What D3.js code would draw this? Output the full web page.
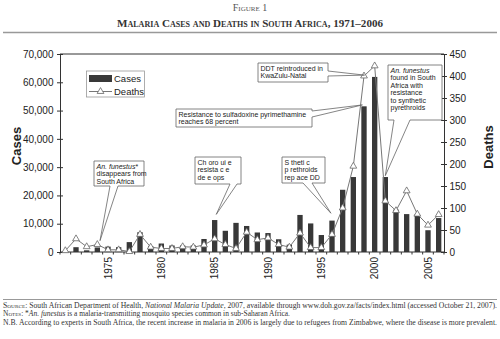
<!DOCTYPE html>
<html><head><meta charset="utf-8">
<script src="https://cdn.jsdelivr.net/npm/d3@7"></script>
<style>
body{margin:0;background:#fff}
svg{display:block}
</style></head><body>
<svg id="chart" width="500" height="339"></svg>
<script>
// ---------- data ----------
const years = [1971,1972,1973,1974,1975,1976,1977,1978,1979,1980,1981,1982,1983,1984,1985,1986,1987,1988,
               1989,1990,1991,1992,1993,1994,1995,1996,1997,1998,1999,2000,2001,2002,2003,2004,2005,2006];
const cases = [0,1700,600,1600,1900,1700,3500,7000,2100,3000,2300,2300,2300,4600,11300,7500,10300,9200,
               6900,6700,4500,2600,13100,10100,6000,11100,22000,26500,51500,61900,26500,15000,13400,13400,7700,12000];
const deaths = [3,30,12,17,5,5,1,40,11,8,8,12,11,16,30,17,8,45,
                28,32,17,11,43,10,10,40,100,195,400,423,116,94,139,86,61,85];
const casesTicks = [0,10000,20000,30000,40000,50000,60000,70000];
const deathsTicks = [0,50,100,150,200,250,300,350,400,450];
const yearLabels = [1975,1980,1985,1990,1995,2000,2005];
const seriesNames = ["Cases","Deaths"];

// annotations: anchor (year, value on axis) for the pointer tip
const notes = [
  {lines:[[["An. funestus","i"],["*",""]],[["disappears from",""]],[["South Africa",""]]],
   box:[94,161,50,25], edge:"bottom", base:[110,118], tip:{year:1974.25, axis:"c", v:4000}},
  {lines:[[["Ch oro ui  e",""]],[["resista c e",""]],[["de e ops",""]]],
   box:[195,157,46,27], edge:"bottom", base:[230,237], tip:{year:1985.15, axis:"c", v:13300}},
  {lines:[[["Resistance to sulfadoxine pyrimethamine",""]],[["reaches 68 percent",""]]],
   box:[176,109,136,18], edge:"right", base:[111,117], tip:{year:1998.85, axis:"c", v:52000}},
  {lines:[[["DDT reintroduced in",""]],[["KwaZulu-Natal",""]]],
   box:[258,63,70,19], edge:"right", base:[71,76], tip:{year:1999.05, axis:"d", v:402}},
  {lines:[[["An. funestus","i"]],[["found in South",""]],[["Africa with",""]],[["resistance",""]],[["to synthetic",""]],[["pyrethroids",""]]],
   box:[388,65,54,55], edge:"bottom", base:[394,410], tip:{year:2001, axis:"c", v:27000}},
  {lines:[[["S  theti  c",""]],[["p rethroids",""]],[["rep ace DD",""]]],
   box:[282,157,43,26], edge:"bottom", base:[303,312], tip:{year:1995.9, axis:"c", v:13700}}
];

// ---------- layout ----------
const L = 60, R = 444, T = 54, B = 252;
const svg = d3.select("#chart");
const sans = "'Liberation Sans', Arial, sans-serif";
const serif = "'Liberation Serif', 'Times New Roman', serif";

const x = d3.scaleBand().domain(years).range([L, R]).paddingInner(0.5).paddingOuter(0.25);
const yC = d3.scaleLinear().domain([0, 70000]).range([B, T]);
const yD = d3.scaleLinear().domain([0, 450]).range([B, T]);
const xCenter = yr => x(yr) + x.bandwidth() / 2;
const xFrac = yr => L + x.step() * (yr - years[0] + 0.5);

// ---------- header ----------
svg.append("text").attr("x", 250).attr("y", 10.5).attr("text-anchor", "middle")
  .style("font-family", serif).style("font-size", "10px").style("font-variant", "small-caps")
  .attr("fill", "#555").text("Figure 1");
svg.append("text").attr("x", 250).attr("y", 26.5).attr("text-anchor", "middle")
  .style("font-family", serif).style("font-size", "11px").style("font-weight", "bold")
  .style("font-variant", "small-caps").attr("fill", "#333")
  .attr("textLength", 266).attr("lengthAdjust", "spacingAndGlyphs")
  .text("Malaria Cases and Deaths in South Africa, 1971–2006");
svg.append("line").attr("x1", 3).attr("x2", 497).attr("y1", 32.5).attr("y2", 32.5)
  .attr("stroke", "#999").attr("stroke-width", 1.5);

// ---------- bars ----------
svg.append("g").selectAll("rect").data(years).join("rect")
  .attr("x", d => x(d)).attr("width", x.bandwidth())
  .attr("y", (d, i) => yC(cases[i])).attr("height", (d, i) => B - yC(cases[i]))
  .attr("fill", "#383838");

// ---------- axes ----------
const axL = svg.append("g").attr("transform", `translate(${L},0)`)
  .call(d3.axisLeft(yC).tickValues(casesTicks).tickFormat(d3.format(",")).tickSizeOuter(0).tickSize(3).tickPadding(3.5));
const axR = svg.append("g").attr("transform", `translate(${R},0)`)
  .call(d3.axisRight(yD).tickValues(deathsTicks).tickSizeOuter(0).tickSize(3).tickPadding(2.5));
[axL, axR].forEach((g, k) => {
  g.select(".domain").attr("stroke", "#333");
  g.selectAll(".tick line").attr("stroke", "#333").attr(k === 0 ? "x1" : "x1", k === 0 ? 3 : -3);
  g.selectAll(".tick text").style("font-family", sans).style("font-size", "10px").attr("fill", "#222");
});
// top frame & bottom axis
svg.append("line").attr("x1", L).attr("x2", R).attr("y1", T).attr("y2", T).attr("stroke", "#333");
svg.append("line").attr("x1", L).attr("x2", R).attr("y1", B).attr("y2", B).attr("stroke", "#333");
const bounds = years.map(d => x(d) - x.step() * 0.25).concat([R]);
svg.append("g").selectAll("line").data(bounds).join("line")
  .attr("x1", d => d).attr("x2", d => d).attr("y1", B).attr("y2", B + 2.5).attr("stroke", "#333");
svg.append("g").selectAll("text").data(yearLabels).join("text")
  .attr("transform", d => `translate(${xCenter(d) + 3.6},257) rotate(-90)`)
  .attr("text-anchor", "end").style("font-family", sans).style("font-size", "10px").attr("fill", "#222")
  .text(d => d);

// axis titles
svg.append("text").attr("transform", "translate(20.5,146) rotate(-90)").attr("text-anchor", "middle")
  .style("font-family", sans).style("font-size", "13px").style("font-weight", "bold").attr("fill", "#222")
  .text("Cases");
svg.append("text").attr("transform", "translate(492.5,147) rotate(-90)").attr("text-anchor", "middle")
  .style("font-family", sans).style("font-size", "13px").style("font-weight", "bold").attr("fill", "#222")
  .text("Deaths");

// ---------- deaths line ----------
const line = d3.line().x((d, i) => xCenter(years[i])).y(d => yD(d));
svg.append("path").datum(deaths).attr("d", line).attr("fill", "none").attr("stroke", "#777").attr("stroke-width", 1);
const tri = d3.symbol().type(d3.symbolTriangle).size(20);
svg.append("g").selectAll("path").data(deaths).join("path")
  .attr("transform", (d, i) => `translate(${xCenter(years[i])},${yD(d)})`)
  .attr("d", tri).attr("fill", "#fff").attr("stroke", "#666").attr("stroke-width", 0.8);

// ---------- legend ----------
const lg = svg.append("g");
lg.append("rect").attr("x", 86.5).attr("y", 71).attr("width", 58).attr("height", 26)
  .attr("fill", "#fff").attr("stroke", "#999").attr("stroke-width", 0.8);
lg.append("rect").attr("x", 89).attr("y", 75).attr("width", 23).attr("height", 7).attr("fill", "#383838");
lg.append("line").attr("x1", 89).attr("x2", 112).attr("y1", 91.5).attr("y2", 91.5).attr("stroke", "#777");
lg.append("path").attr("transform", "translate(100.5,91.5)").attr("d", tri)
  .attr("fill", "#fff").attr("stroke", "#666").attr("stroke-width", 0.8);
lg.selectAll("text.lg").data(seriesNames).join("text").attr("class", "lg")
  .attr("x", 114).attr("y", (d, i) => 82 + i * 13)
  .style("font-family", sans).style("font-size", "9.5px").attr("fill", "#222").text(d => d);

// ---------- callouts ----------
notes.forEach(n => {
  const [bx, by, bw, bh] = n.box;
  const tx = xFrac(n.tip.year);
  const ty = n.tip.axis === "c" ? yC(n.tip.v) : yD(n.tip.v);
  const x2 = bx + bw, y2 = by + bh;
  let p;
  if (n.edge === "right") {
    p = `M${bx},${by}L${x2},${by}L${x2},${n.base[0]}L${tx},${ty}L${x2},${n.base[1]}L${x2},${y2}L${bx},${y2}Z`;
  } else {
    p = `M${bx},${by}L${x2},${by}L${x2},${y2}L${n.base[1]},${y2}L${tx},${ty}L${n.base[0]},${y2}L${bx},${y2}Z`;
  }
  const g = svg.append("g");
  g.append("path").attr("d", p).attr("fill", "#fff").attr("stroke", "#666").attr("stroke-width", 0.8)
    .attr("stroke-linejoin", "miter");
  n.lines.forEach((ln, i) => {
    const t = g.append("text").attr("x", bx + 2.5).attr("y", by + 7.5 + i * 7.5)
      .style("font-family", sans).style("font-size", "7px").attr("fill", "#222");
    ln.forEach(([s, st]) => {
      t.append("tspan").style("font-style", st === "i" ? "italic" : "normal").text(s);
    });
  });
});

// ---------- footer ----------
svg.append("line").attr("x1", 3).attr("x2", 497).attr("y1", 299.5).attr("y2", 299.5)
  .attr("stroke", "#999").attr("stroke-width", 1);
const foot = [
  {y: 308, len: 494, parts: [["Source:", "sc"], [" South African Department of Health, ", ""], ["National Malaria Update", "i"],
     [", 2007, available through www.doh.gov.za/facts/index.html (accessed October 21, 2007).", ""]]},
  {y: 316, len: 287, parts: [["Notes:", "sc"], [" *", ""], ["An. funestus", "i"], [" is a malaria-transmitting mosquito species common in sub-Saharan Africa.", ""]]},
  {y: 324.5, len: 494, parts: [["N.B. According to experts in South Africa, the recent increase in malaria in 2006 is largely due to refugees from Zimbabwe, where the disease is more prevalent.", ""]]}
];
foot.forEach(f => {
  const t = svg.append("text").attr("x", 3).attr("y", f.y)
    .attr("textLength", f.len).attr("lengthAdjust", "spacingAndGlyphs")
    .style("font-family", serif).style("font-size", "7.3px").attr("fill", "#333");
  f.parts.forEach(([s, st]) => {
    t.append("tspan").style("font-style", st === "i" ? "italic" : "normal")
      .style("font-variant", st === "sc" ? "small-caps" : "normal").text(s);
  });
});
</script>
</body></html>
